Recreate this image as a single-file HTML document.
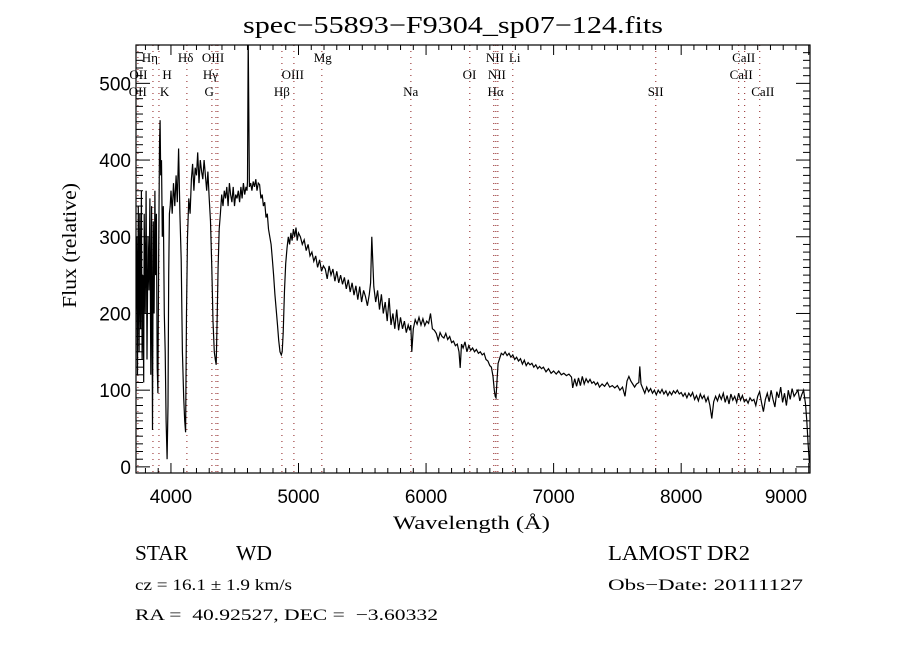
<!DOCTYPE html>
<html><head><meta charset="utf-8"><style>
html,body{margin:0;padding:0;background:#fff;}
svg{display:block;}
text{fill:#000;}
</style></head><body>
<svg id="chart" width="900" height="650" viewBox="0 0 900 650" xmlns="http://www.w3.org/2000/svg">
<rect x="0" y="0" width="900" height="650" fill="#fff"/>
<text x="243" y="33" font-family="Liberation Serif, serif" font-size="24" textLength="420" lengthAdjust="spacingAndGlyphs">spec−55893−F9304_sp07−124.fits</text>
<g id="plot"></g>
<text x="393" y="529" font-family="Liberation Serif, serif" font-size="19" textLength="157" lengthAdjust="spacingAndGlyphs">Wavelength (Å)</text>
<text x="0" y="0" transform="translate(76,308) rotate(-90)" font-family="Liberation Serif, serif" font-size="20" textLength="125" lengthAdjust="spacingAndGlyphs">Flux (relative)</text>
<text x="135" y="560" font-family="Liberation Serif, serif" font-size="21" textLength="53" lengthAdjust="spacingAndGlyphs">STAR</text>
<text x="236" y="560" font-family="Liberation Serif, serif" font-size="21" textLength="36" lengthAdjust="spacingAndGlyphs">WD</text>
<text x="135" y="590" font-family="Liberation Serif, serif" font-size="16" textLength="157" lengthAdjust="spacingAndGlyphs">cz = 16.1 ± 1.9 km/s</text>
<text x="135" y="620" font-family="Liberation Serif, serif" font-size="16" textLength="303" lengthAdjust="spacingAndGlyphs" xml:space="preserve">RA =  40.92527, DEC =  −3.60332</text>
<text x="608" y="560" font-family="Liberation Serif, serif" font-size="21" textLength="142" lengthAdjust="spacingAndGlyphs">LAMOST DR2</text>
<text x="608" y="590" font-family="Liberation Serif, serif" font-size="16" textLength="195" lengthAdjust="spacingAndGlyphs">Obs−Date: 20111127</text>
</svg>
<script>
const wave = [3725,3732,3738,3744,3750,3756,3762,3768,3774,3780,3786,3790,3798,3805,3812,3820,3828,3835,3842,3848,3855,3862,3868,3874,3880,3886,3892,3898,3904,3910,3915,3920,3926,3932,3940,3948,3955,3962,3970,3977,3982,3988,3994,4000,4010,4020,4030,4040,4050,4060,4070,4080,4090,4100,4108,4115,4122,4130,4140,4150,4160,4170,4180,4190,4200,4210,4220,4230,4240,4250,4260,4270,4280,4290,4300,4310,4320,4330,4340,4348,4355,4362,4370,4378,4388,4398,4408,4418,4428,4438,4448,4458,4468,4478,4488,4498,4508,4518,4528,4538,4548,4558,4568,4578,4588,4596,4600,4606,4615,4625,4635,4645,4655,4665,4675,4685,4695,4705,4715,4725,4735,4745,4755,4765,4775,4785,4795,4805,4815,4825,4835,4845,4855,4865,4872,4880,4890,4900,4910,4920,4930,4940,4950,4960,4970,4980,4990,5000,5015,5030,5045,5060,5075,5090,5105,5120,5135,5150,5165,5180,5195,5210,5225,5240,5255,5270,5285,5300,5315,5330,5345,5360,5375,5390,5405,5420,5435,5450,5465,5480,5495,5510,5525,5540,5555,5565,5575,5590,5605,5620,5635,5650,5665,5680,5695,5710,5725,5740,5755,5770,5785,5800,5815,5830,5845,5860,5872,5880,5888,5900,5915,5930,5945,5960,5975,5990,6005,6020,6035,6050,6065,6080,6095,6110,6125,6140,6155,6170,6185,6200,6215,6230,6245,6258,6268,6278,6290,6305,6320,6335,6350,6365,6380,6395,6410,6425,6440,6455,6470,6485,6500,6512,6525,6535,6542,6548,6555,6565,6578,6590,6605,6620,6635,6650,6665,6680,6695,6710,6725,6740,6755,6770,6785,6800,6815,6830,6845,6860,6875,6890,6905,6920,6940,6960,6980,7000,7020,7040,7060,7080,7100,7120,7140,7150,7165,7180,7195,7210,7225,7240,7255,7270,7285,7300,7315,7330,7345,7360,7380,7400,7420,7440,7460,7480,7500,7520,7540,7560,7575,7590,7605,7620,7635,7650,7668,7676,7685,7700,7715,7730,7745,7760,7775,7790,7805,7820,7835,7850,7865,7880,7895,7910,7925,7940,7955,7970,7985,8000,8015,8030,8045,8060,8075,8090,8105,8120,8135,8150,8165,8180,8195,8210,8225,8240,8255,8270,8285,8300,8315,8330,8345,8360,8375,8390,8405,8420,8435,8450,8465,8480,8495,8510,8525,8540,8555,8570,8585,8600,8615,8630,8645,8660,8675,8690,8705,8720,8735,8750,8765,8780,8795,8810,8825,8840,8855,8870,8885,8900,8915,8930,8945,8960,8975,8985,8995,9005];
const flux = [200,300,120,340,150,330,180,360,140,250,110,330,200,360,140,300,230,350,120,340,48,320,200,360,250,330,130,96,280,420,452,380,400,300,340,200,150,60,10,80,250,330,340,360,330,370,340,380,345,415,330,270,150,90,60,45,200,300,350,330,375,395,360,390,380,410,370,400,385,375,400,380,360,385,350,320,260,190,150,140,133,190,260,310,330,355,340,360,350,365,340,370,355,345,365,340,355,350,360,345,365,350,370,355,365,360,372,560,365,370,360,372,365,375,360,370,368,350,355,340,345,325,330,310,300,290,270,250,225,205,185,165,150,146,150,175,230,265,285,300,290,305,295,310,300,312,295,305,300,290,296,282,290,275,280,268,275,260,270,255,262,258,245,262,250,258,242,255,240,250,238,247,232,244,228,240,224,236,218,235,215,230,222,210,225,240,300,235,215,230,205,225,200,215,190,220,185,200,180,205,178,195,180,190,175,185,178,185,150,180,192,186,195,185,193,184,190,187,200,180,178,174,165,175,170,168,174,166,170,162,164,158,160,150,129,160,155,163,150,158,152,155,150,153,148,150,146,148,140,138,132,130,118,100,92,90,110,135,142,148,146,150,145,148,143,146,140,143,138,141,134,139,132,136,133,135,130,133,128,131,128,130,124,128,122,125,121,125,120,122,119,121,117,103,115,105,116,106,118,108,115,110,114,109,111,107,110,104,108,105,110,104,106,103,106,100,104,92,112,118,112,108,104,108,110,131,108,102,96,104,98,102,96,100,94,100,96,101,95,99,93,98,94,99,96,100,95,97,92,96,90,96,92,97,88,93,86,95,89,93,85,91,80,63,85,92,86,94,88,96,84,93,82,95,87,92,84,96,87,93,85,88,83,90,86,88,80,92,98,84,72,88,96,85,100,88,78,98,90,104,84,96,80,100,88,102,92,96,100,86,94,100,82,60,30,5];
const lineWave = [3741,3859,3906,4125,4321,4353,4368,4870,4964,5183,5881,6343,6531,6547,6563,6680,7801,8451,8498,8616];
const lineLabels = ["Hη","Hδ","OIII","Mg","NII","Li","CaII","OII","H","Hγ","OIII","OI","NII","CaII","OII","K","G","Hβ","Na","Hα","SII","CaII"];
const labelWave = [3835,4115,4330,5190,6540,6695,8490,3745,3970,4310,4955,6340,6555,8470,3740,3950,4300,4870,5880,6545,7800,8640];
const labelRow = [0,0,0,0,0,0,0,1,1,1,1,1,1,1,2,2,2,2,2,2,2,2];
const xTicks = [4000,5000,6000,7000,8000,9000];
const yTicks = [0,100,200,300,400,500];

const NS="http://www.w3.org/2000/svg";
const L=136,R=810,T=45,B=473;
const XMIN=3726,XMAX=9010,YMIN=-8,YMAX=550;
function xs(w){return L+(w-XMIN)/(XMAX-XMIN)*(R-L);}
function ys(f){return B-(f-YMIN)/(YMAX-YMIN)*(B-T);}
const plot=document.getElementById('plot');
function mk(tag,attrs,parent){const e=document.createElementNS(NS,tag);for(const k in attrs)e.setAttribute(k,attrs[k]);(parent||plot).appendChild(e);return e;}

const defs=mk('defs',{});
const cp=mk('clipPath',{id:'clip'},defs);
mk('rect',{x:L,y:T,width:R-L,height:B-T},cp);

lineWave.forEach(w=>{
  const ln=mk('line',{x1:xs(w),x2:xs(w),y1:T,y2:B,stroke:'#8b1a1a','stroke-width':1,'stroke-dasharray':'1,5'});
  
  
});
const rowY=[62,79,96];
lineLabels.forEach((t,i)=>{
  const tx=mk('text',{x:xs(labelWave[i]),y:rowY[labelRow[i]],'font-family':'Liberation Serif, serif','font-size':13,'text-anchor':'middle'});
  tx.textContent=t;
  
  
});
let d='';
wave.forEach((w,i)=>{d+=(i?'L':'M')+xs(w).toFixed(1)+','+ys(flux[i]).toFixed(1);});
const sp=mk('path',{d:d,fill:'none',stroke:'#000','stroke-width':1.2,'clip-path':'url(#clip)'});


const fr=mk('rect',{x:L,y:T,width:R-L,height:B-T,fill:'none',stroke:'#000','stroke-width':1.2});


for(let w=3800;w<=9000;w+=100){
  const major=w%1000===0, len=major?10:5;
  mk('line',{x1:xs(w),x2:xs(w),y1:B,y2:B-len,stroke:'#000'});
  mk('line',{x1:xs(w),x2:xs(w),y1:T,y2:T+len,stroke:'#000'});
}
xTicks.forEach(v=>{
  const tx=mk('text',{x:v===9000?786:xs(v),y:503,'font-family':'Liberation Sans, sans-serif','font-size':19,'text-anchor':'middle'});
  tx.textContent=v;
  
  
});
for(let v=0;v<=540;v+=10){
  const major=v%100===0, len=major?14:7;
  mk('line',{x1:L,x2:L+len,y1:ys(v),y2:ys(v),stroke:'#000'});
  mk('line',{x1:R,x2:R-len,y1:ys(v),y2:ys(v),stroke:'#000'});
}
yTicks.forEach(v=>{
  const tx=mk('text',{x:131,y:ys(v)+7,'font-family':'Liberation Sans, sans-serif','font-size':19,'text-anchor':'end'});
  tx.textContent=v;
  
  
});
</script>
</body></html>
